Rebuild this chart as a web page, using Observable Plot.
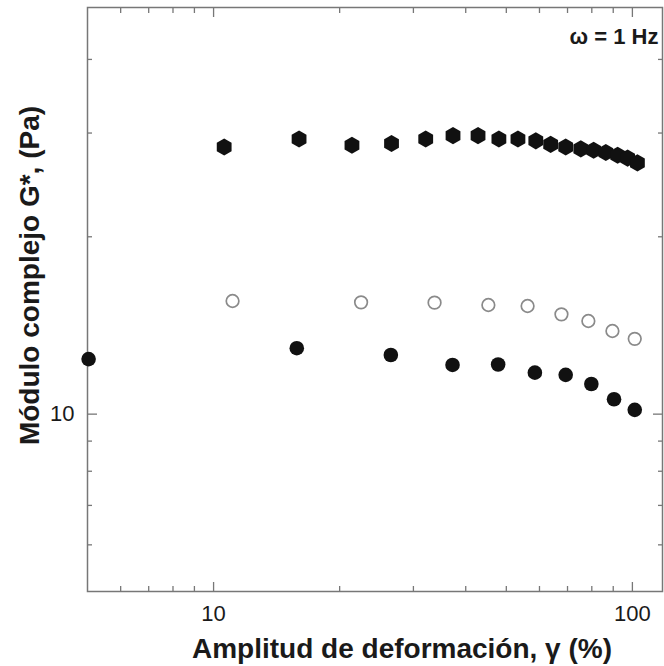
<!DOCTYPE html>
<html>
<head>
<meta charset="utf-8">
<script src="https://cdn.jsdelivr.net/npm/d3@7"></script>
<script src="https://cdn.jsdelivr.net/npm/@observablehq/plot@0.6"></script>
<style>
  html, body { margin: 0; padding: 0; background: #fff; }
</style>
</head>
<body>
<div id="chart"></div>
<script>
// Strain sweep at ω = 1 Hz: complex modulus G* (Pa) vs strain amplitude γ (%)

// Upper series (filled hexagons)
const strainUpper = [10.6, 16.0, 21.4, 26.6, 32.1, 37.3, 42.8, 48.0, 53.3, 58.8, 63.8, 69.3, 75.3, 80.8, 86.4, 92.2, 97.4, 102.8];
const modulusUpper = [28.4, 29.3, 28.6, 28.8, 29.3, 29.7, 29.7, 29.3, 29.3, 29.1, 28.7, 28.4, 28.2, 28.05, 27.8, 27.5, 27.2, 26.7];

// Middle series (open circles)
const strainOpen = [11.1, 22.5, 33.7, 45.3, 56.2, 67.7, 78.5, 89.6, 101.3];
const modulusOpen = [15.56, 15.48, 15.46, 15.32, 15.26, 14.77, 14.39, 13.84, 13.42];

// Lower series (filled circles)
const strainLower = [5.03, 15.8, 26.5, 37.2, 47.8, 58.5, 69.3, 79.8, 90.4, 101.3];
const modulusLower = [12.4, 12.94, 12.6, 12.12, 12.14, 11.76, 11.66, 11.25, 10.6, 10.17];

// Axis ticks
const xMajorTicks = [10, 100];
const xMinorTicks = [6, 7, 8, 9, 20, 30, 40, 50, 60, 70, 80, 90];
const yMajorTicks = [10];
const yMinorTicks = [6, 7, 8, 9, 20, 30, 40];

// Text
const xTitle = "Amplitud de deformación, γ (%)";
const yTitle = "Módulo complejo G*, (Pa)";
const note = "ω = 1 Hz";

const zip = (xs, ys) => xs.map((x, i) => ({x, y: ys[i]}));
const upper = zip(strainUpper, modulusUpper);
const open = zip(strainOpen, modulusOpen);
const lower = zip(strainLower, modulusLower);

const axisColor = "#777";
const inkColor = "#1a1a1a";

const chart = Plot.plot({
  width: 664,
  height: 666,
  marginLeft: 87,
  marginRight: 2,
  marginTop: 7,
  marginBottom: 75,
  style: {fontFamily: "'Liberation Sans', Arial, sans-serif", color: inkColor, background: "#fff"},
  x: {type: "log", domain: [5, 118]},
  y: {type: "log", domain: [5, 49]},
  marks: [
    Plot.frame({stroke: axisColor, strokeWidth: 1.5}),
    // bottom axis: labelled major ticks, then minor ticks (all pointing inward)
    Plot.axisX(xMajorTicks, {anchor: "bottom", tickSize: -9, tickPadding: 23, stroke: axisColor, strokeWidth: 1.3, fill: inkColor, fontSize: 22, tickFormat: d => String(d), label: null}),
    Plot.axisX(xMinorTicks, {anchor: "bottom", tickSize: -5, stroke: axisColor, strokeWidth: 1.3, fill: "none", label: null}),
    // mirrored ticks on top
    Plot.axisX(xMajorTicks, {anchor: "top", tickSize: -9, stroke: axisColor, strokeWidth: 1.3, fill: "none", label: null}),
    Plot.axisX(xMinorTicks, {anchor: "top", tickSize: -5, stroke: axisColor, strokeWidth: 1.3, fill: "none", label: null}),
    // left axis
    Plot.axisY(yMajorTicks, {anchor: "left", tickSize: -10, tickPadding: 23, stroke: axisColor, strokeWidth: 1.3, fill: inkColor, fontSize: 22, tickFormat: d => String(d), label: null}),
    Plot.axisY(yMinorTicks, {anchor: "left", tickSize: -5, stroke: axisColor, strokeWidth: 1.3, fill: "none", label: null}),
    // mirrored ticks on the right
    Plot.axisY(yMajorTicks, {anchor: "right", tickSize: -10, stroke: axisColor, strokeWidth: 1.3, fill: "none", label: null}),
    Plot.axisY(yMinorTicks, {anchor: "right", tickSize: -5, stroke: axisColor, strokeWidth: 1.3, fill: "none", label: null}),

    // data
    Plot.dot(upper, {x: "x", y: "y", symbol: "hexagon", r: 7.4, fill: "#111", stroke: "none"}),
    Plot.dot(open, {x: "x", y: "y", r: 6.3, fill: "#fff", stroke: "#8a8a8a", strokeWidth: 1.7}),
    Plot.dot(lower, {x: "x", y: "y", r: 7.3, fill: "#111", stroke: "none"}),

    // titles and annotation
    Plot.text([xTitle], {frameAnchor: "bottom", lineAnchor: "middle", dx: 27, dy: 58, fontSize: 28, fontWeight: "bold", fill: inkColor}),
    Plot.text([yTitle], {frameAnchor: "left", dx: -57, dy: -24, rotate: -90, textAnchor: "middle", lineAnchor: "middle", fontSize: 28, fontWeight: "bold", fill: inkColor}),
    Plot.text([note], {frameAnchor: "top-right", lineAnchor: "middle", dx: -4, dy: 29, fontSize: 22, fontWeight: "bold", fill: inkColor})
  ]
});

document.getElementById("chart").append(chart);
</script>
</body>
</html>
